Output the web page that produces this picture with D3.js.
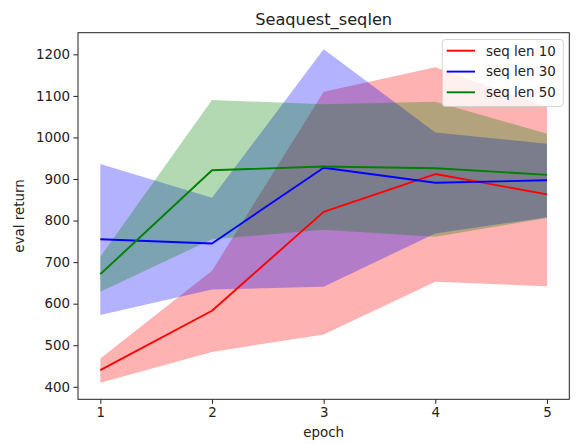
<!DOCTYPE html>
<html>
<head>
<meta charset="utf-8">
<script src="https://cdn.jsdelivr.net/npm/d3@7"></script>
<style>
  html, body { margin: 0; padding: 0; background: #fff; }
  svg { display: block; }
  text { font-family: "DejaVu Sans", sans-serif; fill: #222; }
</style>
</head>
<body>
<svg id="chart" width="576" height="444"></svg>
<script>
// ---- data ----
const epochs = [1, 2, 3, 4, 5];
const seriesNames = ["seq len 10", "seq len 30", "seq len 50"];
const seriesColors = ["#ff0000", "#0000ff", "#008000"];

const mean10  = [440, 583, 821, 912, 863];
const upper10 = [468, 679, 1110, 1169, 1074];
const lower10 = [410, 484, 526, 653, 642];

const mean30  = [755, 745, 927, 891, 897];
const upper30 = [936, 855, 1212, 1012, 985];
const lower30 = [573, 634, 641, 769, 808];

const mean50  = [671, 921, 930, 926, 910];
const upper50 = [713, 1090, 1080, 1086, 1009];
const lower50 = [629, 755, 778, 761, 806];

const yTicks = [400, 500, 600, 700, 800, 900, 1000, 1100, 1200];
const xTicks = [1, 2, 3, 4, 5];

const series = [
  { name: seriesNames[0], color: seriesColors[0], mean: mean10, upper: upper10, lower: lower10 },
  { name: seriesNames[1], color: seriesColors[1], mean: mean30, upper: upper30, lower: lower30 },
  { name: seriesNames[2], color: seriesColors[2], mean: mean50, upper: upper50, lower: lower50 }
];

// ---- layout ----
const svg = d3.select("#chart");
const plotL = 78, plotR = 569.3, plotT = 32.7, plotB = 399.3;

const xMin = d3.min(epochs), xMax = d3.max(epochs);
const xPad = (xMax - xMin) * 0.05;
const x = d3.scaleLinear().domain([xMin - xPad, xMax + xPad]).range([plotL, plotR]);

const yMin = d3.min(series, s => d3.min(s.lower));
const yMax = d3.max(series, s => d3.max(s.upper));
const yPad = (yMax - yMin) * 0.05;
const y = d3.scaleLinear().domain([yMin - yPad, yMax + yPad]).range([plotB, plotT]);

const area = d3.area()
  .x(d => x(d.e))
  .y0(d => y(d.lo))
  .y1(d => y(d.hi));
const line = d3.line()
  .x(d => x(d.e))
  .y(d => y(d.m));

const rows = s => epochs.map((e, i) => ({ e, m: s.mean[i], hi: s.upper[i], lo: s.lower[i] }));

svg.append("g").selectAll("path")
  .data(series)
  .join("path")
  .attr("d", s => area(rows(s)))
  .attr("fill", s => s.color)
  .attr("fill-opacity", 0.3)
  .attr("stroke", "none");

svg.append("g").selectAll("path")
  .data(series)
  .join("path")
  .attr("d", s => line(rows(s)))
  .attr("fill", "none")
  .attr("stroke", s => s.color)
  .attr("stroke-width", 1.9)
  .attr("stroke-linejoin", "round");

// axes
const xAxis = d3.axisBottom(x).tickValues(xTicks).tickFormat(d3.format("d")).tickSize(4.6).tickPadding(3.4);
const yAxis = d3.axisLeft(y).tickValues(yTicks).tickFormat(d3.format("d")).tickSize(4.6).tickPadding(3.4);

const gx = svg.append("g").attr("transform", `translate(0,${plotB})`).call(xAxis);
const gy = svg.append("g").attr("transform", `translate(${plotL},0)`).call(yAxis);
[gx, gy].forEach(g => {
  g.select(".domain").remove();
  g.selectAll(".tick line").attr("stroke", "#222").attr("stroke-width", 1);
  g.selectAll(".tick text").attr("font-size", "13.4px").attr("fill", "#222")
    .attr("font-family", "DejaVu Sans, sans-serif");
});

// frame
svg.append("rect")
  .attr("x", plotL).attr("y", plotT)
  .attr("width", plotR - plotL).attr("height", plotB - plotT)
  .attr("fill", "none").attr("stroke", "#222").attr("stroke-width", 1);

// title and labels
svg.append("text")
  .attr("x", (plotL + plotR) / 2).attr("y", 25)
  .attr("text-anchor", "middle").attr("font-size", "16.2px")
  .text("Seaquest_seqlen");

svg.append("text")
  .attr("x", (plotL + plotR) / 2).attr("y", 437)
  .attr("text-anchor", "middle").attr("font-size", "13.4px")
  .text("epoch");

svg.append("text")
  .attr("transform", `translate(24,${(plotT + plotB) / 2}) rotate(-90)`)
  .attr("text-anchor", "middle").attr("font-size", "13.4px")
  .text("eval return");

// legend
const lg = svg.append("g");
lg.append("rect")
  .attr("x", 442.3).attr("y", 39.5)
  .attr("width", 121).attr("height", 67)
  .attr("rx", 3).attr("ry", 3)
  .attr("fill", "#fff").attr("fill-opacity", 0.8)
  .attr("stroke", "#cccccc").attr("stroke-opacity", 0.8).attr("stroke-width", 1);

const rowY = [50.7, 71.6, 92.3];
series.forEach((s, i) => {
  lg.append("line")
    .attr("x1", 446.7).attr("x2", 475)
    .attr("y1", rowY[i]).attr("y2", rowY[i])
    .attr("stroke", s.color).attr("stroke-width", 1.9);
  lg.append("text")
    .attr("x", 486).attr("y", rowY[i] + 4.8)
    .attr("font-size", "13.4px")
    .text(s.name);
});
</script>
</body>
</html>
